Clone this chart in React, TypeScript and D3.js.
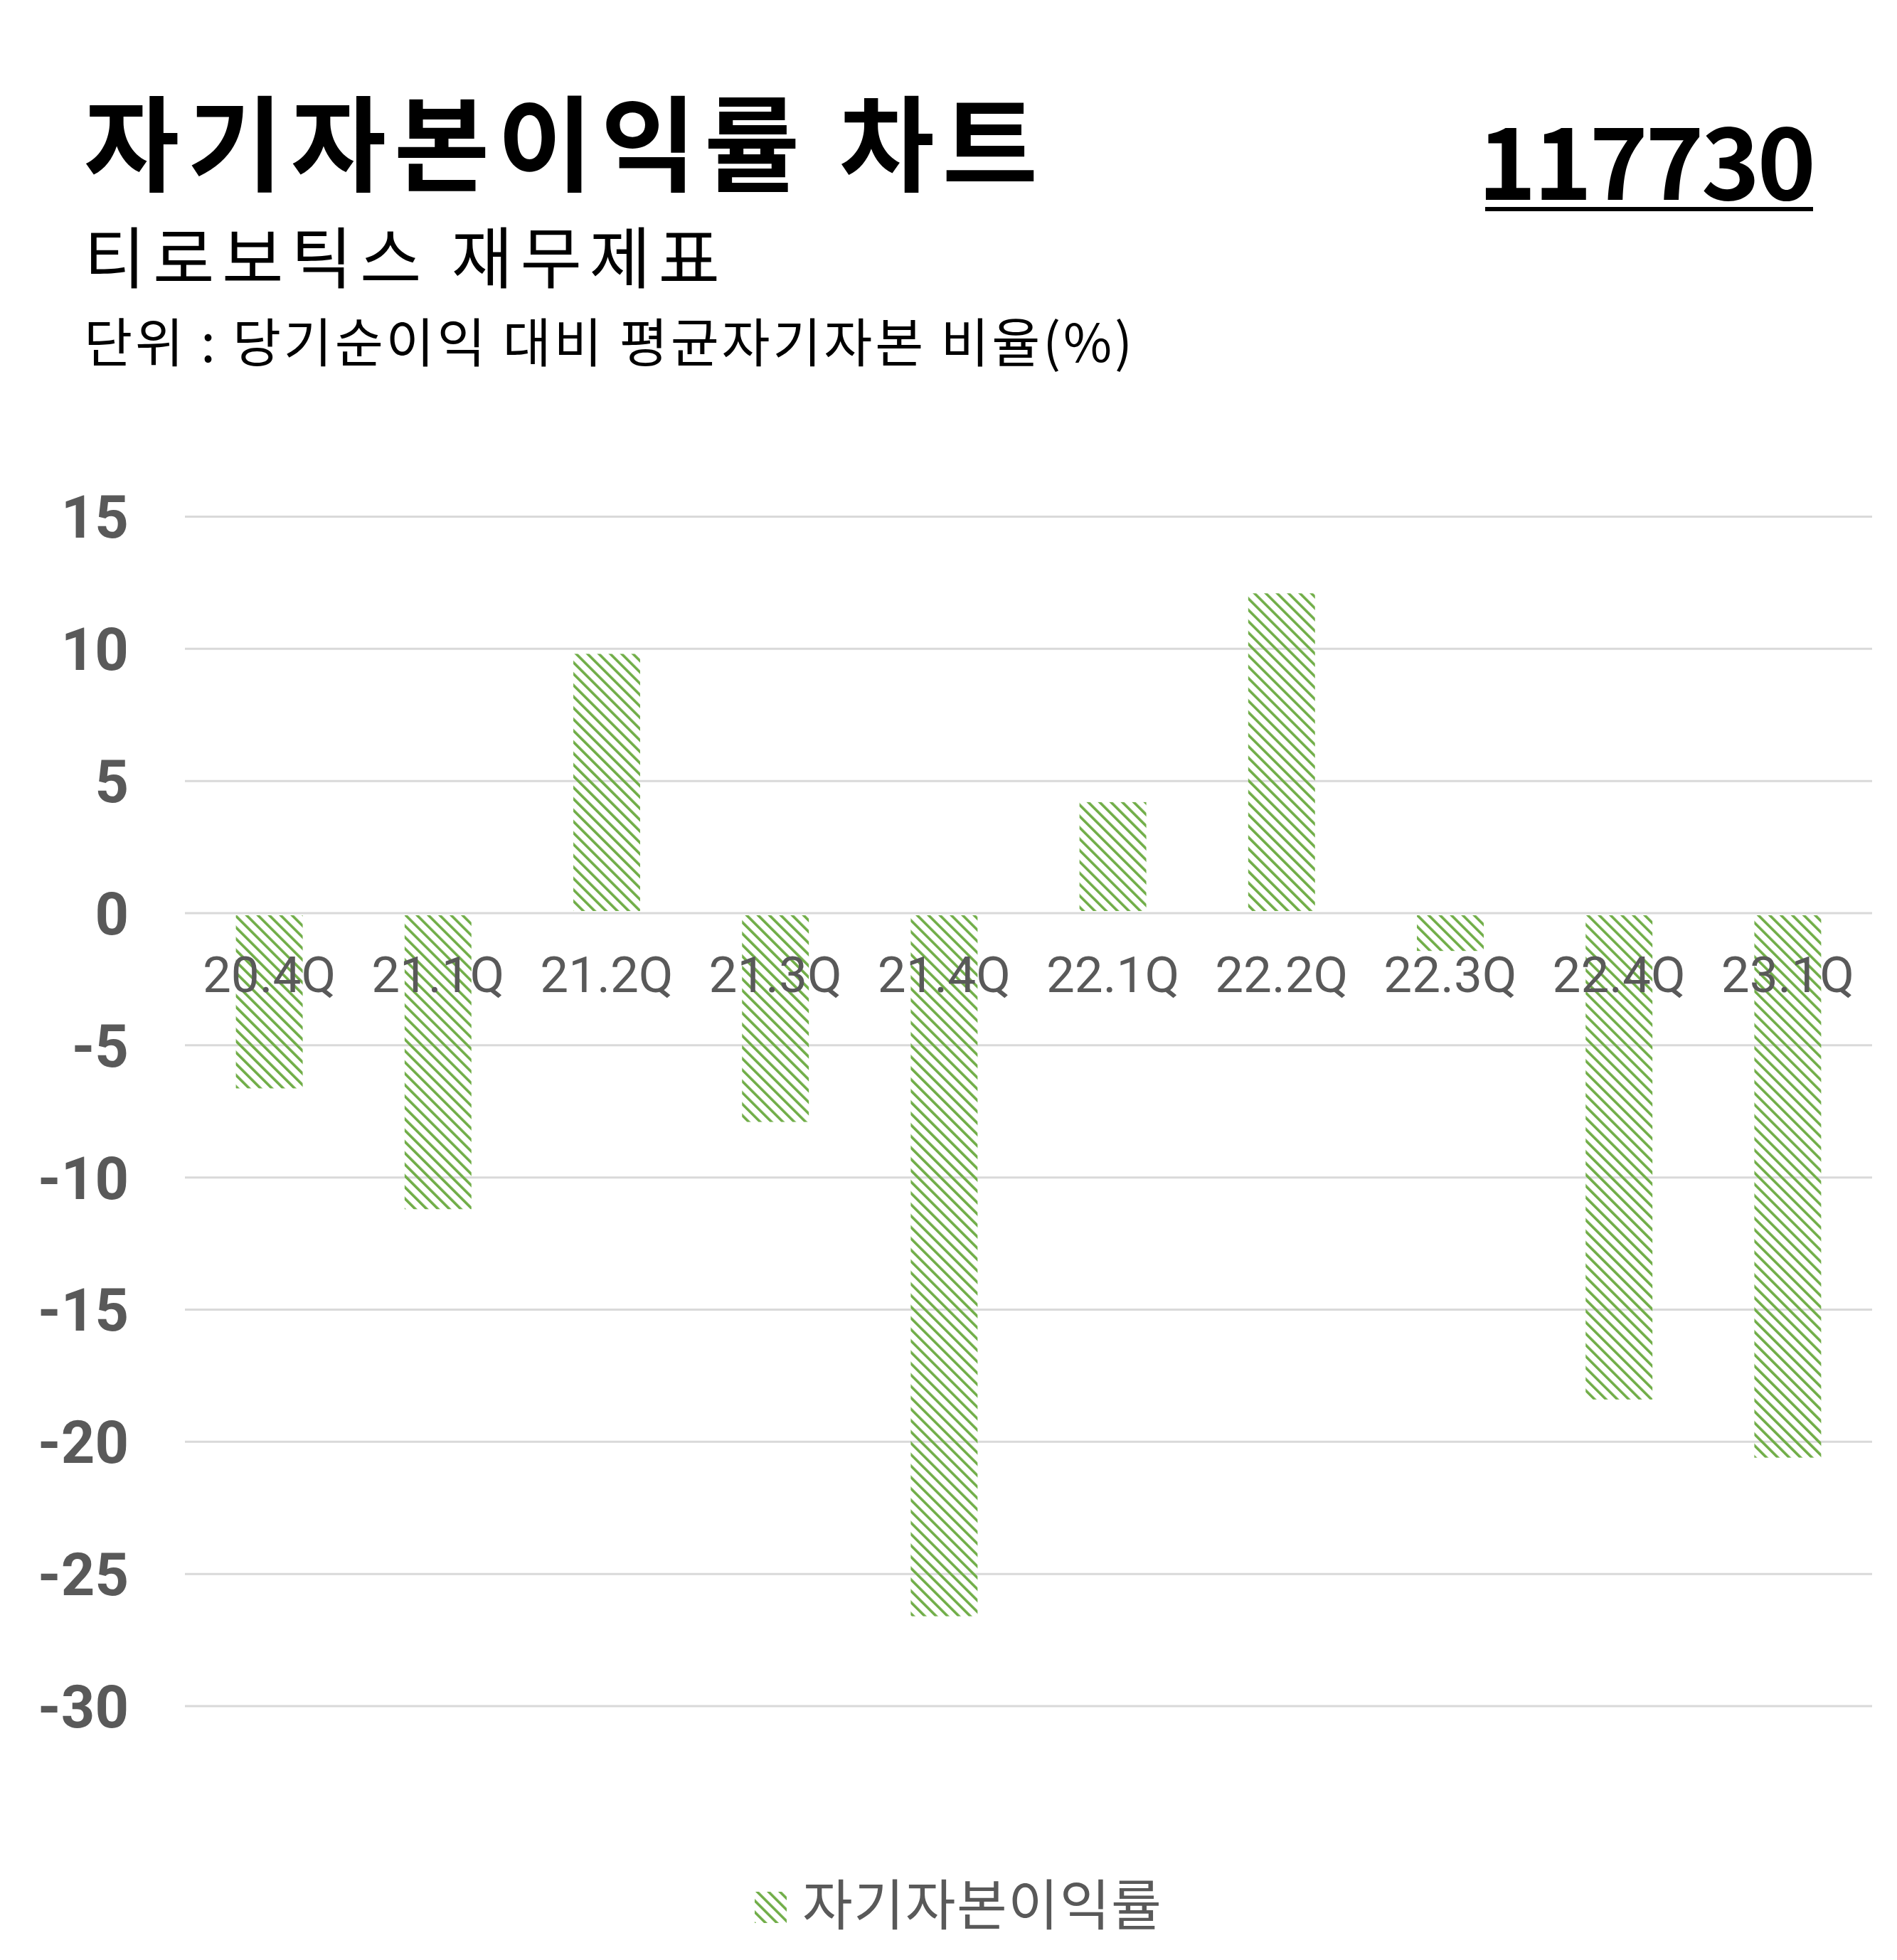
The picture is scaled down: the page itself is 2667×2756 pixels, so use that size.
import * as d3 from "d3";

const categories = ["20.4Q", "21.1Q", "21.2Q", "21.3Q", "21.4Q", "22.1Q", "22.2Q", "22.3Q", "22.4Q", "23.1Q"];
const roeValues = [-6.63, -11.2, 9.81, -7.9, -26.6, 4.2, 12.1, -1.43, -18.4, -20.6];
const yTicks = [15, 10, 5, 0, -5, -10, -15, -20, -25, -30];

const title = "자기자본이익률 차트";
const code = "117730";
const subtitle = "티로보틱스 재무제표";
const unitLabel = "단위 : 당기순이익 대비 평균자기자본 비율(%)";
const seriesName = "자기자본이익률";

const W = 2667;
const H = 2756;
const GREEN = "#70AD47";
const GRAY = "#595959";
const KR = "'Noto Sans CJK KR', 'Noto Sans', sans-serif";
const NUM = "Roboto, 'Noto Sans', sans-serif";

export default function App() {
  const x = d3.scaleBand<string>().domain(categories).range([260, 2632]).paddingInner(0.604).paddingOuter(0.302);
  const y = d3.scaleLinear().domain([-30, 15]).range([2399, 726.5]);

  return (
    <svg
      width={W}
      height={H}
      viewBox={`0 0 ${W} ${H}`}
      style={{ position: "absolute", left: 0, top: 0, display: "block", background: "#fff" }}
    >
      <defs>
        <pattern id="hatch" patternUnits="userSpaceOnUse" width={11.3} height={11.3} patternTransform="rotate(-45)">
          <rect x={0} y={0} width={3.6} height={11.3} fill={GREEN} />
        </pattern>
      </defs>

      {/* header */}
      <text x={118} y={257} fontFamily={KR} fontWeight={700} fontSize={146} letterSpacing={11} fill="#000">
        {title}
      </text>
      <text x={2549} y={281} textAnchor="end" fontFamily={KR} fontWeight={700} fontSize={140} letterSpacing={-4} fill="#000">
        {code}
      </text>
      <rect x={2088} y={291} width={461} height={6} fill="#000" />
      <text x={118} y={398} fontFamily={KR} fontWeight={400} fontSize={94} letterSpacing={10.5} fill="#000">
        {subtitle}
      </text>
      <text x={118} y={509} fontFamily={KR} fontWeight={400} fontSize={74} letterSpacing={3.8} fill="#000">
        {unitLabel}
      </text>

      {/* grid + y labels */}
      {yTicks.map((t) => (
        <g key={t}>
          <line x1={260} x2={2632} y1={y(t)} y2={y(t)} stroke="#d9d9d9" strokeWidth={3} />
          <text
            x={181}
            y={y(t)}
            dy="0.36em"
            textAnchor="end"
            fontFamily={NUM}
            fontWeight={700}
            fontSize={83}
            fill={GRAY}
          >
            {t < 0 ? `‐${Math.abs(t)}` : t}
          </text>
        </g>
      ))}

      {/* bars */}
      {roeValues.map((v, i) => (
        <rect
          key={categories[i]}
          x={x(categories[i])!}
          y={y(Math.max(0, v)) + (v < 0 ? 3 : 0)}
          width={x.bandwidth()}
          height={Math.abs(y(v) - y(0)) - 3}
          fill="url(#hatch)"
        />
      ))}

      {/* category labels */}
      {categories.map((c) => (
        <text
          key={c}
          x={x(c)! + x.bandwidth() / 2}
          y={1395}
          textAnchor="middle"
          fontFamily={NUM}
          fontWeight={400}
          fontSize={71}
          fill={GRAY}
        >
          {c}
        </text>
      ))}

      {/* legend */}
      <rect x={1061} y={2660} width={45} height={44} fill="url(#hatch)" />
      <text x={1128} y={2707} fontFamily={KR} fontWeight={400} fontSize={77} letterSpacing={1.5} fill={GRAY}>
        {seriesName}
      </text>
    </svg>
  );
}
